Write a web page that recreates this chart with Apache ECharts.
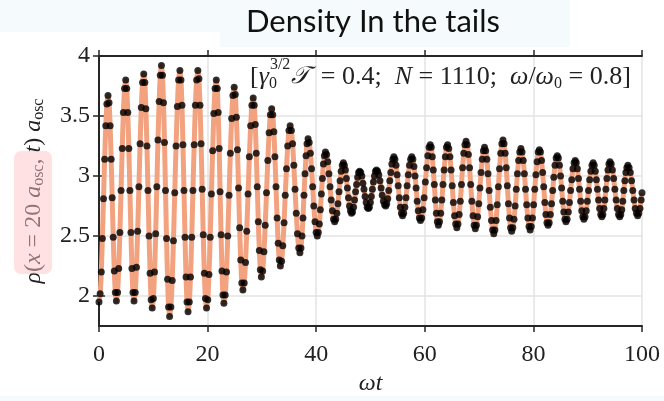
<!DOCTYPE html>
<html>
<head>
<meta charset="utf-8">
<script src="https://cdn.jsdelivr.net/npm/echarts@6/dist/echarts.min.js"></script>
<style>
  html, body { margin: 0; padding: 0; background: #ffffff; }
  #chart { width: 664px; height: 401px; }
</style>
</head>
<body>
<div id="chart"></div>
<script>
// Axis ticks
const xTicks = [0, 20, 40, 60, 80, 100];
const yTicks = [2, 2.5, 3, 3.5, 4];

// Sample times (omega t), one row per half oscillation
const omegaT = [
  0.00, 0.21, 0.42, 0.62, 0.83, 1.04, 1.25, 1.45,
  1.66, 1.85, 2.05, 2.24, 2.43, 2.62, 2.82, 3.01,
  3.20, 3.42, 3.63, 3.85, 4.06, 4.28, 4.49, 4.71,
  4.92, 5.11, 5.30, 5.49, 5.69, 5.88, 6.07, 6.26,
  6.45, 6.67, 6.90, 7.12, 7.35, 7.57, 7.79, 8.02,
  8.24, 8.44, 8.63, 8.83, 9.02, 9.22, 9.41, 9.61,
  9.80, 10.01, 10.23, 10.44, 10.65, 10.86, 11.08, 11.29,
  11.50, 11.69, 11.88, 12.06, 12.25, 12.44, 12.63, 12.81,
  13.00, 13.24, 13.48, 13.71, 13.95, 14.19, 14.43, 14.66,
  14.90, 15.09, 15.28, 15.46, 15.65, 15.84, 16.03, 16.21,
  16.40, 16.63, 16.85, 17.08, 17.30, 17.53, 17.75, 17.98,
  18.20, 18.40, 18.60, 18.80, 19.00, 19.20, 19.40, 19.60,
  19.80, 20.03, 20.25, 20.48, 20.70, 20.93, 21.15, 21.38,
  21.60, 21.78, 21.95, 22.13, 22.30, 22.48, 22.65, 22.83,
  23.00, 23.24, 23.48, 23.71, 23.95, 24.19, 24.43, 24.66,
  24.90, 25.10, 25.30, 25.50, 25.70, 25.90, 26.10, 26.30,
  26.50, 26.74, 26.98, 27.21, 27.45, 27.69, 27.93, 28.16,
  28.40, 28.59, 28.78, 28.96, 29.15, 29.34, 29.53, 29.71,
  29.90, 30.14, 30.38, 30.61, 30.85, 31.09, 31.33, 31.56,
  31.80, 32.00, 32.20, 32.40, 32.60, 32.80, 33.00, 33.20,
  33.40, 33.63, 33.85, 34.08, 34.30, 34.53, 34.75, 34.98,
  35.20, 35.43, 35.65, 35.88, 36.10, 36.33, 36.55, 36.78,
  37.00, 37.19, 37.38, 37.56, 37.75, 37.94, 38.13, 38.31,
  38.50, 38.71, 38.93, 39.14, 39.35, 39.56, 39.78, 39.99,
  40.20, 40.39, 40.58, 40.76, 40.95, 41.14, 41.33, 41.51,
  41.70, 41.91, 42.13, 42.34, 42.55, 42.76, 42.98, 43.19,
  43.40, 43.60, 43.80, 44.00, 44.20, 44.40, 44.60, 44.80,
  45.00, 45.19, 45.38, 45.56, 45.75, 45.94, 46.13, 46.31,
  46.50, 46.69, 46.88, 47.06, 47.25, 47.44, 47.63, 47.81,
  48.00, 48.20, 48.40, 48.60, 48.80, 49.00, 49.20, 49.40,
  49.60, 49.79, 49.98, 50.16, 50.35, 50.54, 50.73, 50.91,
  51.10, 51.31, 51.53, 51.74, 51.95, 52.16, 52.38, 52.59,
  52.80, 52.99, 53.18, 53.36, 53.55, 53.74, 53.93, 54.11,
  54.30, 54.50, 54.70, 54.90, 55.10, 55.30, 55.50, 55.70,
  55.90, 56.11, 56.33, 56.54, 56.75, 56.96, 57.18, 57.39,
  57.60, 57.80, 58.00, 58.20, 58.40, 58.60, 58.80, 59.00,
  59.20, 59.43, 59.65, 59.88, 60.10, 60.33, 60.55, 60.78,
  61.00, 61.19, 61.38, 61.56, 61.75, 61.94, 62.13, 62.31,
  62.50, 62.71, 62.93, 63.14, 63.35, 63.56, 63.78, 63.99,
  64.20, 64.41, 64.63, 64.84, 65.05, 65.26, 65.48, 65.69,
  65.90, 66.11, 66.33, 66.54, 66.75, 66.96, 67.18, 67.39,
  67.60, 67.81, 68.03, 68.24, 68.45, 68.66, 68.88, 69.09,
  69.30, 69.51, 69.73, 69.94, 70.15, 70.36, 70.58, 70.79,
  71.00, 71.21, 71.43, 71.64, 71.85, 72.06, 72.28, 72.49,
  72.70, 72.91, 73.13, 73.34, 73.55, 73.76, 73.98, 74.19,
  74.40, 74.60, 74.80, 75.00, 75.20, 75.40, 75.60, 75.80,
  76.00, 76.21, 76.43, 76.64, 76.85, 77.06, 77.28, 77.49,
  77.70, 77.91, 78.13, 78.34, 78.55, 78.76, 78.98, 79.19,
  79.40, 79.61, 79.83, 80.04, 80.25, 80.46, 80.68, 80.89,
  81.10, 81.30, 81.50, 81.70, 81.90, 82.10, 82.30, 82.50,
  82.70, 82.91, 83.13, 83.34, 83.55, 83.76, 83.98, 84.19,
  84.40, 84.60, 84.80, 85.00, 85.20, 85.40, 85.60, 85.80,
  86.00, 86.21, 86.43, 86.64, 86.85, 87.06, 87.28, 87.49,
  87.70, 87.90, 88.10, 88.30, 88.50, 88.70, 88.90, 89.10,
  89.30, 89.51, 89.73, 89.94, 90.15, 90.36, 90.58, 90.79,
  91.00, 91.20, 91.40, 91.60, 91.80, 92.00, 92.20, 92.40,
  92.60, 92.79, 92.98, 93.16, 93.35, 93.54, 93.73, 93.91,
  94.10, 94.33, 94.55, 94.78, 95.00, 95.23, 95.45, 95.68,
  95.90, 96.09, 96.28, 96.46, 96.65, 96.84, 97.03, 97.21,
  97.40, 97.63, 97.85, 98.08, 98.30, 98.53, 98.75, 98.98,
  99.20, 99.41, 99.63, 99.84, 100.00
];

// Density at x = 20 a_osc, in units of 1/a_osc
const rhoTail = [
  1.95, 2.02, 2.20, 2.48, 2.81, 3.14, 3.42, 3.60,
  3.67, 3.61, 3.42, 3.14, 2.82, 2.49, 2.21, 2.03,
  1.96, 2.03, 2.23, 2.53, 2.88, 3.23, 3.53, 3.73,
  3.80, 3.73, 3.53, 3.23, 2.88, 2.53, 2.23, 2.03,
  1.96, 2.03, 2.24, 2.54, 2.91, 3.27, 3.57, 3.78,
  3.85, 3.78, 3.56, 3.25, 2.88, 2.50, 2.19, 1.97,
  1.90, 1.98, 2.20, 2.52, 2.91, 3.30, 3.62, 3.84,
  3.92, 3.84, 3.61, 3.28, 2.88, 2.48, 2.14, 1.91,
  1.83, 1.91, 2.13, 2.46, 2.86, 3.25, 3.58, 3.80,
  3.88, 3.80, 3.59, 3.26, 2.88, 2.49, 2.16, 1.95,
  1.87, 1.95, 2.16, 2.49, 2.88, 3.26, 3.59, 3.80,
  3.88, 3.81, 3.59, 3.27, 2.89, 2.51, 2.19, 1.98,
  1.90, 1.97, 2.18, 2.49, 2.85, 3.21, 3.52, 3.73,
  3.80, 3.73, 3.53, 3.23, 2.87, 2.51, 2.21, 2.01,
  1.94, 2.01, 2.20, 2.50, 2.84, 3.19, 3.48, 3.67,
  3.74, 3.68, 3.49, 3.22, 2.90, 2.57, 2.30, 2.11,
  2.05, 2.11, 2.28, 2.54, 2.85, 3.16, 3.42, 3.59,
  3.65, 3.59, 3.43, 3.19, 2.91, 2.62, 2.38, 2.22,
  2.16, 2.21, 2.37, 2.59, 2.86, 3.13, 3.36, 3.51,
  3.56, 3.51, 3.37, 3.16, 2.91, 2.65, 2.44, 2.30,
  2.25, 2.29, 2.42, 2.61, 2.84, 3.06, 3.25, 3.38,
  3.42, 3.38, 3.27, 3.09, 2.89, 2.69, 2.52, 2.40,
  2.36, 2.40, 2.50, 2.65, 2.84, 3.02, 3.17, 3.27,
  3.31, 3.28, 3.19, 3.06, 2.91, 2.75, 2.62, 2.53,
  2.50, 2.53, 2.60, 2.72, 2.85, 2.98, 3.10, 3.17,
  3.20, 3.18, 3.12, 3.02, 2.91, 2.80, 2.71, 2.64,
  2.62, 2.64, 2.69, 2.77, 2.87, 2.96, 3.04, 3.09,
  3.11, 3.09, 3.05, 2.98, 2.90, 2.82, 2.75, 2.71,
  2.69, 2.70, 2.74, 2.80, 2.87, 2.93, 2.99, 3.03,
  3.04, 3.03, 3.00, 2.94, 2.89, 2.83, 2.78, 2.74,
  2.73, 2.74, 2.78, 2.83, 2.89, 2.95, 3.00, 3.04,
  3.05, 3.04, 3.01, 2.96, 2.90, 2.84, 2.79, 2.76,
  2.75, 2.77, 2.81, 2.88, 2.96, 3.03, 3.10, 3.14,
  3.16, 3.14, 3.09, 3.01, 2.92, 2.82, 2.74, 2.69,
  2.67, 2.69, 2.74, 2.82, 2.92, 3.01, 3.09, 3.14,
  3.16, 3.14, 3.08, 3.00, 2.90, 2.79, 2.71, 2.65,
  2.63, 2.65, 2.72, 2.82, 2.95, 3.07, 3.17, 3.24,
  3.26, 3.24, 3.16, 3.05, 2.93, 2.80, 2.69, 2.62,
  2.59, 2.62, 2.69, 2.80, 2.93, 3.05, 3.16, 3.24,
  3.26, 3.23, 3.16, 3.05, 2.92, 2.78, 2.67, 2.60,
  2.57, 2.60, 2.68, 2.79, 2.93, 3.07, 3.19, 3.26,
  3.29, 3.26, 3.18, 3.07, 2.93, 2.79, 2.67, 2.59,
  2.56, 2.59, 2.66, 2.77, 2.90, 3.03, 3.14, 3.21,
  3.24, 3.21, 3.14, 3.02, 2.88, 2.74, 2.63, 2.55,
  2.52, 2.55, 2.63, 2.76, 2.91, 3.06, 3.19, 3.27,
  3.30, 3.27, 3.19, 3.07, 2.92, 2.77, 2.65, 2.57,
  2.54, 2.57, 2.64, 2.75, 2.89, 3.02, 3.13, 3.20,
  3.23, 3.20, 3.13, 3.02, 2.89, 2.76, 2.65, 2.58,
  2.55, 2.58, 2.65, 2.76, 2.89, 3.01, 3.12, 3.20,
  3.22, 3.20, 3.13, 3.03, 2.91, 2.78, 2.68, 2.61,
  2.59, 2.61, 2.68, 2.77, 2.88, 2.99, 3.09, 3.15,
  3.17, 3.15, 3.09, 3.00, 2.90, 2.79, 2.70, 2.64,
  2.62, 2.64, 2.70, 2.78, 2.88, 2.97, 3.06, 3.11,
  3.13, 3.11, 3.06, 2.98, 2.89, 2.79, 2.71, 2.66,
  2.64, 2.66, 2.71, 2.79, 2.88, 2.97, 3.04, 3.09,
  3.11, 3.09, 3.04, 2.97, 2.89, 2.80, 2.73, 2.68,
  2.66, 2.68, 2.73, 2.80, 2.89, 2.98, 3.05, 3.10,
  3.12, 3.10, 3.05, 2.98, 2.89, 2.80, 2.73, 2.68,
  2.66, 2.68, 2.72, 2.79, 2.88, 2.96, 3.03, 3.07,
  3.09, 3.07, 3.03, 2.96, 2.88, 2.80, 2.73, 2.69,
  2.67, 2.69, 2.73, 2.80, 2.86
];

const points = omegaT.map((t, i) => [t, rhoTail[i]]);

const serif = "'Liberation Serif', 'DejaVu Serif', serif";
const ink = '#222222';
const frame = { show: true, lineStyle: { color: '#262626', width: 2 } };
const tickStyle = { color: '#262626', width: 1.5 };
const gridLine = { show: true, lineStyle: { color: '#e3e3e3', width: 1.5 } };

const chart = echarts.init(document.getElementById('chart'), null, { renderer: 'canvas' });

chart.setOption({
  backgroundColor: '#ffffff',
  animation: false,
  grid: { left: 99, right: 22, top: 56, bottom: 74 },
  xAxis: [
    {
      type: 'value', min: 0, max: 100, interval: 20, position: 'bottom',
      axisLine: frame,
      axisTick: { show: true, length: 6, lineStyle: tickStyle },
      axisLabel: { fontFamily: serif, fontSize: 24, color: ink, margin: 17 },
      splitLine: gridLine,
      name: '{i|ωt}', nameLocation: 'middle', nameGap: 44,
      nameTextStyle: { rich: { i: { fontFamily: serif, fontStyle: 'italic', fontSize: 24, color: ink } } }
    },
    {
      type: 'value', min: 0, max: 100, interval: 20, position: 'top',
      axisLine: frame,
      axisTick: { show: true, length: 6, lineStyle: tickStyle },
      axisLabel: { show: false },
      splitLine: { show: false }
    }
  ],
  yAxis: [
    {
      type: 'value', min: 1.75, max: 4, position: 'left',
      axisLine: frame,
      axisTick: { show: true, length: 6, lineStyle: tickStyle, customValues: yTicks },
      axisLabel: { fontFamily: serif, fontSize: 24, color: ink, margin: 9, customValues: yTicks },
      splitLine: gridLine,
      name: '{i|ρ}{r|(}{i|x}{r| = 20 }{i|a}{s|osc}{r|, }{i|t}{r|) }{i|a}{s|osc}',
      nameLocation: 'middle', nameGap: 52, nameRotate: 90,
      nameTextStyle: {
        rich: {
          i: { fontFamily: serif, fontStyle: 'italic', fontSize: 24, color: ink, verticalAlign: 'middle' },
          r: { fontFamily: serif, fontSize: 24, color: ink, verticalAlign: 'middle' },
          s: { fontFamily: serif, fontSize: 16, color: ink, verticalAlign: 'middle', padding: [10, 0, 0, 0] }
        }
      }
    },
    {
      type: 'value', min: 1.75, max: 4, position: 'right',
      axisLine: frame,
      axisTick: { show: true, length: 6, lineStyle: tickStyle, customValues: yTicks },
      axisLabel: { show: false, customValues: yTicks },
      splitLine: { show: false }
    }
  ],
  series: [
    {
      type: 'line', data: points, showSymbol: false, smooth: 0.3,
      lineStyle: { color: '#f2a27f', width: 5 }, z: 2
    },
    {
      type: 'scatter', data: points, symbolSize: 7,
      itemStyle: { color: '#000000' }, z: 3
    }
  ],
  graphic: [
    { type: 'rect', z: -10, shape: { x: 0, y: 0, width: 570, height: 32 }, style: { fill: '#f5fbfd' } },
    { type: 'rect', z: -10, shape: { x: 220, y: 32, width: 350, height: 15 }, style: { fill: '#f5fbfd' } },
    { type: 'rect', z: -10, shape: { x: 0, y: 396, width: 664, height: 5 }, style: { fill: '#f5fbfd' } },
    {
      type: 'text', x: 373, y: 22, z: 10,
      style: { text: 'Density In the tails', fontFamily: 'Lato', fontSize: 31, fill: '#111111', align: 'center', verticalAlign: 'middle' }
    },
    {
      type: 'text', x: 250, y: 77, z: 10,
      style: {
        text: '{r|[}{i|γ}{sb|0}{sp|3/2}{c|𝒯}{r| = 0.4;  }{i|N}{r| = 1110;  }{i|ω}{r|/}{i|ω}{sb2|0}{r| = 0.8]}',
        align: 'left', verticalAlign: 'middle',
        rich: {
          r: { fontFamily: serif, fontSize: 26, fill: ink, verticalAlign: 'middle' },
          i: { fontFamily: serif, fontStyle: 'italic', fontSize: 26, fill: ink, verticalAlign: 'middle' },
          c: { fontFamily: "'DejaVu Sans', serif", fontStyle: 'italic', fontSize: 24, fill: ink, verticalAlign: 'middle', padding: [0, 5, 0, 0] },
          sp: { fontFamily: serif, fontSize: 16, fill: ink, verticalAlign: 'middle', padding: [0, 1, 25, 0] },
          sb: { fontFamily: serif, fontSize: 16, fill: ink, verticalAlign: 'middle', padding: [13, 0, 0, 0], width: 1 },
          sb2: { fontFamily: serif, fontSize: 16, fill: ink, verticalAlign: 'middle', padding: [13, 0, 0, 0] }
        }
      }
    },
    {
      type: 'rect', z: 100,
      shape: { x: 14, y: 151, width: 38, height: 123, r: 7 },
      style: { fill: 'rgba(255, 196, 202, 0.5)' }
    }
  ]
});
</script>
</body>
</html>
